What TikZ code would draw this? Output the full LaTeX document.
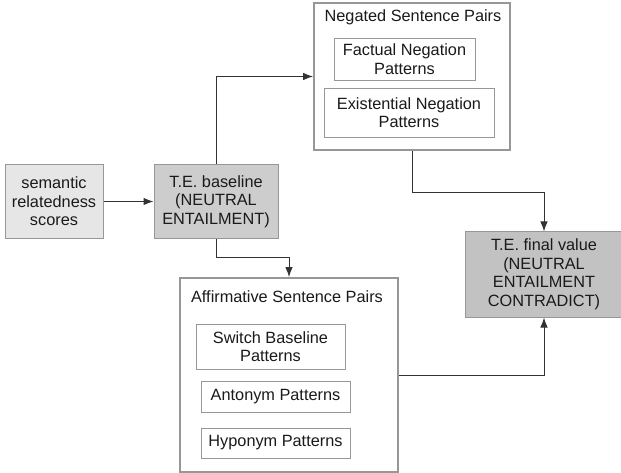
\documentclass[tikz,border=0pt]{standalone}
\usepackage{fontspec}
\setmainfont{Liberation Sans}
\usetikzlibrary{arrows.meta}
\definecolor{txt}{HTML}{1A1A1A}
\definecolor{bord}{HTML}{979797}
\definecolor{lite}{HTML}{E6E6E6}
\definecolor{mid}{HTML}{CDCDCD}
\definecolor{dark}{HTML}{C2C2C2}
\definecolor{wire}{HTML}{333333}
\tikzset{
  base/.style={align=center, text=txt, font=\fontsize{16.3}{18.5}\selectfont, inner sep=0pt},
  fillbox/.style={base, draw=bord, line width=1pt},
  outerbox/.style={draw=bord, line width=1.8pt, fill=white},
  innerbox/.style={base, draw=bord, line width=0.8pt, fill=white},
  title/.style={base},
  arr/.style={draw=wire, line width=1pt, -{Latex[length=10pt,width=7.5pt]}}
}
\begin{document}
\begin{tikzpicture}[x=1pt,y=-1pt]
\useasboundingbox (0,0) rectangle (621,473);
\fill[white] (0,0) rectangle (621,473);
% filled boxes
\node[fillbox, fill=lite, minimum width=98pt, minimum height=73pt] (sem) at (54,201.5) {semantic\\relatedness\\scores};
\node[fillbox, fill=mid, minimum width=124pt, minimum height=74pt] (base) at (216,201.5) {T.E. baseline\\(NEUTRAL\\ENTAILMENT)};
\node[fillbox, fill=dark, minimum width=157pt, minimum height=85pt] (final) at (544,274.5) {T.E. final value\\(NEUTRAL\\ENTAILMENT\\CONTRADICT)};
% negated group
\node[outerbox, minimum width=196pt, minimum height=147pt, inner sep=0pt] (neg) at (412,76.5) {};
\node[title] (negt) at (413,17) {Negated Sentence Pairs};
\node[innerbox, minimum width=141pt, minimum height=42pt] (fact) at (404.5,59) {Factual Negation\\Patterns};
\node[innerbox, minimum width=170pt, minimum height=49pt] (exist) at (409,112.5) {Existential Negation\\Patterns};
% affirmative group
\node[outerbox, minimum width=218pt, minimum height=194pt, inner sep=0pt] (aff) at (289,375) {};
\node[title] (afft) at (287,297) {Affirmative Sentence Pairs};
\node[innerbox, minimum width=149pt, minimum height=45pt] (sw) at (270.5,346.5) {Switch Baseline\\Patterns};
\node[innerbox, minimum width=149pt, minimum height=31pt] (ant) at (275.5,396.5) {Antonym Patterns};
\node[innerbox, minimum width=149pt, minimum height=30pt] (hyp) at (275.5,443) {Hyponym Patterns};
% connectors
\draw[arr] (sem.east) -- (base.west);
\draw[arr] (base.north) |- (neg.west);
\draw[arr] (base.south) -- ++(0,18) -| (aff.north);
\draw[arr] (neg.south) -- ++(0,42) -| (final.north);
\draw[arr] (aff.east) -| (final.south);
\end{tikzpicture}
\end{document}
